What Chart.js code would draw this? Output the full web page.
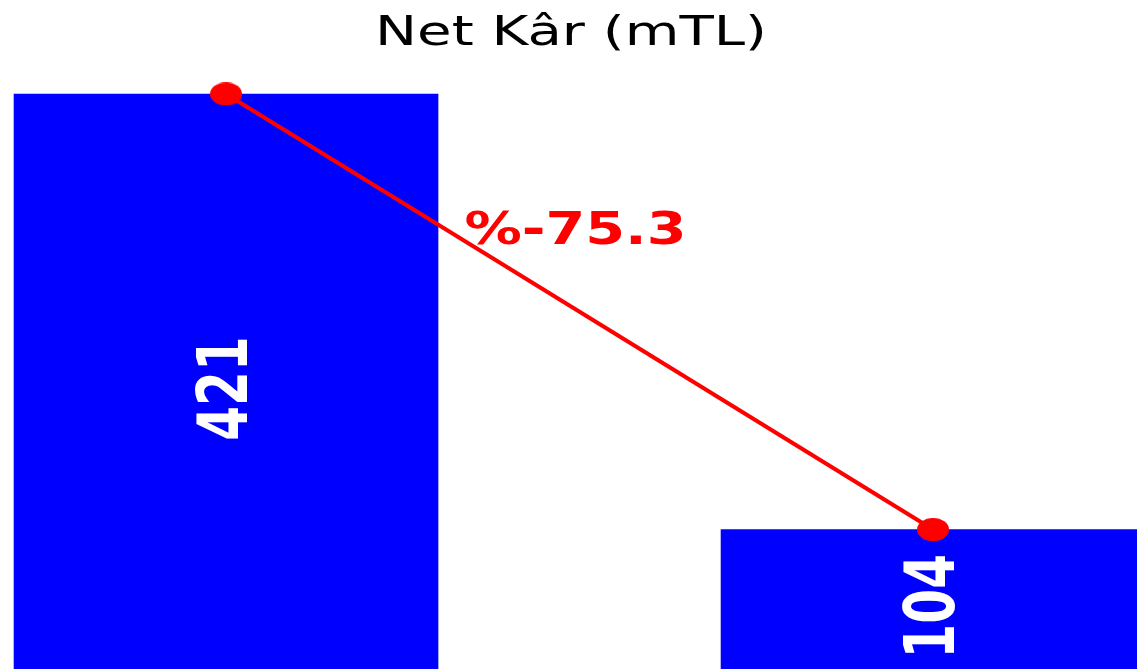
<!DOCTYPE html>
<html>
<head>
<meta charset="utf-8">
<script src="https://cdn.jsdelivr.net/npm/chart.js@4"></script>
<style>
  html, body { margin: 0; padding: 0; background: #fff; overflow: hidden; }
  #wrap { width: 1137px; height: 669px; }
</style>
</head>
<body>
<div id="wrap"><canvas id="netKarChart" width="1137" height="669"></canvas></div>
<script>
// Net profit, two periods
const positions = [0, 1];
const values = [421, 104];
const chartTitle = 'Net Kâr (mTL)';

const BLUE = '#0000ff';
const RED = '#ff0000';

// matplotlib export was stretched horizontally, so dots are ellipses
function makeDot(w, h) {
  const c = document.createElement('canvas');
  c.width = w; c.height = h;
  const g = c.getContext('2d');
  g.fillStyle = RED;
  g.beginPath();
  g.ellipse(w / 2, h / 2, w / 2, h / 2, 0, 0, Math.PI * 2);
  g.fill();
  return c;
}

function stretchedText(ctx, txt, x, y, font, color, sx, rot) {
  ctx.save();
  ctx.translate(x, y);
  ctx.scale(sx, 1);
  if (rot) ctx.rotate(rot);
  ctx.font = font;
  ctx.fillStyle = color;
  ctx.textAlign = 'center';
  ctx.textBaseline = 'alphabetic';
  ctx.fillText(txt, 0, 0);
  ctx.restore();
}

const labelsPlugin = {
  id: 'labels',
  afterDatasetsDraw(chart) {
    const ctx = chart.ctx;
    const area = chart.chartArea;
    // title
    stretchedText(ctx, chartTitle, 571, 45, '41px "DejaVu Sans"', '#000', 1.37, 0);

    // value labels inside the bars, rotated
    const bars = chart.getDatasetMeta(1).data;
    bars.forEach((bar, i) => {
      const midY = (bar.y + area.bottom) / 2 + 7;
      stretchedText(ctx, String(values[i]), bar.x - 4 + 25, midY,
        'bold 50px "DejaVu Sans"', '#fff', 1.4, -Math.PI / 2);
    });

    // percent change above the connecting line
    const pts = chart.getDatasetMeta(0).data;
    const change = ((values[1] - values[0]) / values[0] * 100).toFixed(1);
    const mx = (pts[0].x + pts[1].x) / 2 - 4;
    const my = (pts[0].y + pts[1].y) / 2 - 68;
    stretchedText(ctx, '%' + change, mx, my, 'bold 44px "DejaVu Sans"', RED, 1.3, 0);
  }
};

const xy = positions.map((p, i) => ({ x: p, y: values[i] }));

new Chart(document.getElementById('netKarChart'), {
  data: {
    datasets: [{
      type: 'line',
      data: xy,
      borderColor: RED,
      borderWidth: 4,
      pointStyle: makeDot(32, 23),
      pointRadius: 12,
      order: 0
    }, {
      type: 'bar',
      data: xy,
      backgroundColor: BLUE,
      borderWidth: 0,
      barThickness: 424,
      order: 1
    }]
  },
  options: {
    responsive: false,
    animation: false,
    layout: { padding: 0, autoPadding: false },
    scales: {
      x: { type: 'linear', display: false, offset: false, min: -0.3197, max: 1.2885 },
      y: { display: false, min: 2.5, max: 489.4 }
    },
    plugins: {
      legend: { display: false },
      title: { display: false },
      tooltip: { enabled: false }
    }
  },
  plugins: [labelsPlugin]
});
</script>
</body>
</html>
